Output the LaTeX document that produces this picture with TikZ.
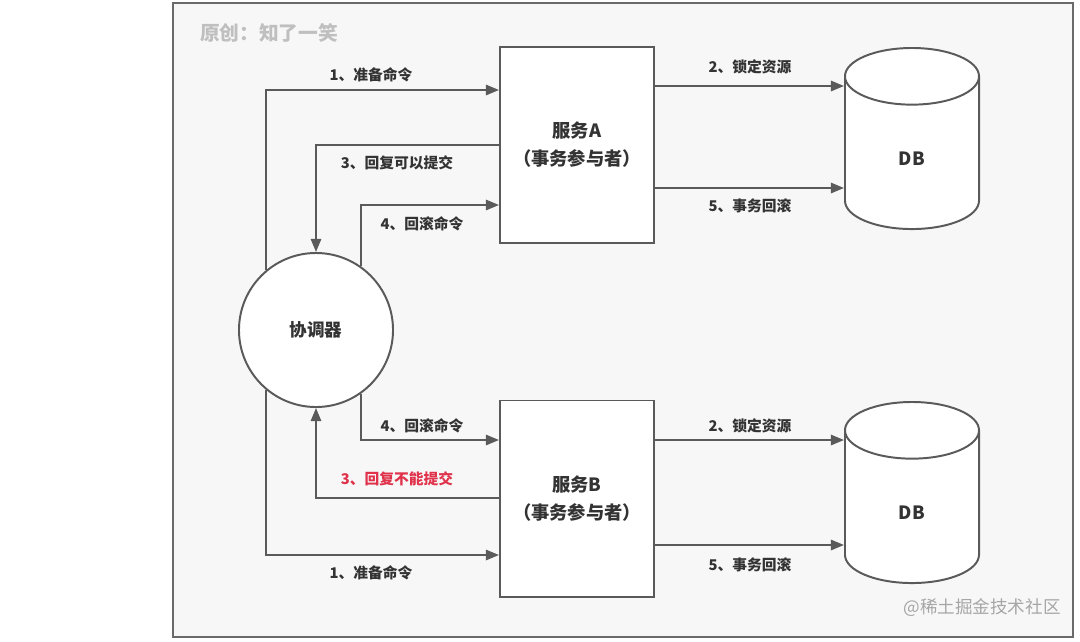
\documentclass[tikz,border=0pt]{standalone}
\usepackage{fontspec}
\setmainfont{Noto Sans CJK SC}
\usepackage{tikz}
\usetikzlibrary{arrows.meta, shapes.geometric, positioning}
\definecolor{linegray}{HTML}{5A5A5A}
\definecolor{framegray}{HTML}{6A6A6A}
\definecolor{panelbg}{HTML}{F7F7F7}
\definecolor{textdark}{HTML}{333333}
\definecolor{alertred}{HTML}{E0324B}
\tikzset{
  svcbox/.style={
    rectangle, minimum width=3.85cm, minimum height=4.9cm,
    draw=linegray, line width=1.4pt, fill=white,
    text centered, align=center, font=\fontsize{13}{20}\selectfont\bfseries,
    text=textdark
  },
  dbnode/.style={
    cylinder, shape border rotate=90, aspect=1.6, anchor=north,
    minimum width=3.35cm, minimum height=4.525cm,
    draw=linegray, line width=1.4pt, fill=white,
    font=\fontsize{13}{14}\selectfont\bfseries, text=textdark
  },
  coordnode/.style={
    circle, minimum size=3.85cm, inner sep=0pt,
    draw=linegray, line width=1.4pt, fill=white,
    font=\fontsize{12.5}{14}\selectfont\bfseries, text=textdark
  },
  flowarrow/.style={-{Triangle[length=3.3mm, width=2.6mm]}, line width=1.4pt, color=linegray},
  steplabel/.style={font=\fontsize{10.5}{12}\selectfont\bfseries, text=#1},
  steplabel/.default=textdark,
}

\begin{document}
\begin{tikzpicture}[x=0.025cm, y=-0.025cm]
  \useasboundingbox (0,0) rectangle (1080,641);
  \draw[draw=framegray, line width=1.4pt, fill=panelbg] (173,3) rectangle (1073,637);

  \node[font=\fontsize{14}{16}\selectfont\bfseries, text=black!25] (title) at (269,33) {原创：知了一笑};

  \node[coordnode] (coord) at (316,330) {协调器};
  \node[svcbox] (svcA) at (577,145) {服务A\\（事务参与者）};
  \node[svcbox] (svcB) at (577,498.5) {服务B\\（事务参与者）};
  \node[dbnode] (dbA) at (912,47) {DB};
  \node[dbnode] (dbB) at (912,401) {DB};

  % coordinator <-> service A
  \draw[flowarrow] (coord.130.5) |- (svcA.west |- 0,90);
  \draw[flowarrow] (svcA.west) -| (coord.north);
  \draw[flowarrow] (coord.55.2) |- (svcA.west |- 0,205);
  % coordinator <-> service B
  \draw[flowarrow] (coord.-55.2) |- (svcB.west |- 0,440);
  \draw[flowarrow] (svcB.west |- 0,498) -| (coord.south);
  \draw[flowarrow] (coord.-130.5) |- (svcB.west |- 0,555);
  % services -> DB
  \draw[flowarrow] (svcA.east |- 0,86) -- (dbA.west |- 0,86);
  \draw[flowarrow] (svcA.east |- 0,188) -- (dbA.west |- 0,188);
  \draw[flowarrow] (svcB.east |- 0,440) -- (dbB.west |- 0,440);
  \draw[flowarrow] (svcB.east |- 0,545) -- (dbB.west |- 0,545);

  \node[steplabel] (prepA)  at (371,75)  {1、准备命令};
  \node[steplabel] (okA)    at (397,163) {3、回复可以提交};
  \node[steplabel] (rbA)    at (422,224) {4、回滚命令};
  \node[steplabel] (lockA)  at (750,67)  {2、锁定资源};
  \node[steplabel] (undoA)  at (750,206) {5、事务回滚};
  \node[steplabel] (rbB)    at (422,426) {4、回滚命令};
  \node[steplabel=alertred] (noB) at (397,479) {3、回复不能提交};
  \node[steplabel] (prepB)  at (371,573) {1、准备命令};
  \node[steplabel] (lockB)  at (750,426) {2、锁定资源};
  \node[steplabel] (undoB)  at (750,565) {5、事务回滚};

  \node[font=\fontsize{12.5}{14}\selectfont, text=black!35] (mark) at (982,608) {@稀土掘金技术社区};
\end{tikzpicture}
\end{document}
